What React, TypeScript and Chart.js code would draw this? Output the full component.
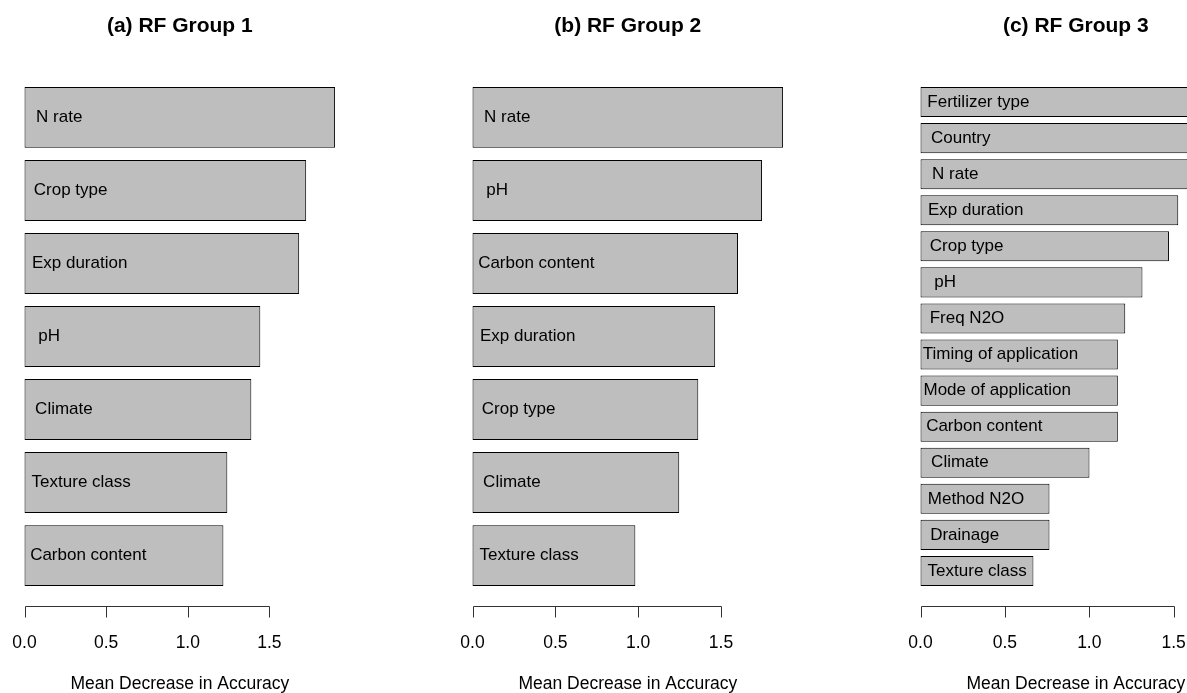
import React, { useEffect, useRef } from "react";
import { Chart, registerables } from "chart.js";

Chart.register(...registerables);

const FONT = '"Liberation Sans", Arial, Helvetica, sans-serif';

// (a) RF Group 1 – variable importance, top to bottom
const groupOneLabels = ["N rate", "Crop type", "Exp duration", "pH", "Climate", "Texture class", "Carbon content"];
const groupOneValues = [1.902, 1.725, 1.682, 1.444, 1.389, 1.242, 1.218];

// (b) RF Group 2
const groupTwoLabels = ["N rate", "pH", "Carbon content", "Exp duration", "Crop type", "Climate", "Texture class"];
const groupTwoValues = [1.875, 1.748, 1.603, 1.465, 1.363, 1.248, 0.983];

// (c) RF Group 3
const groupThreeLabels = [
  "Fertilizer type",
  "Country",
  "N rate",
  "Exp duration",
  "Crop type",
  "pH",
  "Freq N2O",
  "Timing of application",
  "Mode of application",
  "Carbon content",
  "Climate",
  "Method N2O",
  "Drainage",
  "Texture class",
];
const groupThreeValues = [1.84, 1.75, 1.67, 1.527, 1.472, 1.315, 1.213, 1.169, 1.169, 1.169, 1.001, 0.764, 0.764, 0.669];

const panelTitles = ["(a) RF Group 1", "(b) RF Group 2", "(c) RF Group 3"];
const axisTickValues = [0, 0.5, 1.0, 1.5];
const axisTickLabels = ["0.0", "0.5", "1.0", "1.5"];
const axisTitle = "Mean Decrease in Accuracy";

// page geometry
const PAGE_W = 1187;
const PAGE_H = 693;
const PANEL_STRIDE = 448;
const PLOT_LEFT = 12.1;
const PLOT_WIDTH = 335.4;
const BAR_TOP = 87;
const BAR_BOTTOM = 586;
const BAR_FRACTION = 1 / 1.2; // barplot space = 0.2
const TITLE_CENTER_Y = 26;
const TICK_LABEL_CENTER_Y = 642.7;
const AXIS_TITLE_CENTER_Y = 684;
const TICK_LEN = 11;

const BAR_FILL = "#BEBEBE";

// R-style detached axis (line + tick marks) and in-bar variable names
const rStylePlugin = {
  id: "rStyle",
  afterDatasetsDraw(chart: any) {
    const { ctx } = chart;
    const xs = chart.scales.x;
    const bars = chart.getDatasetMeta(0).data;
    const labels: string[] = chart.data.labels;
    if (!bars.length) return;
    const first = bars[0].getProps(["y", "height"], true);
    const last = bars[bars.length - 1].getProps(["y", "height"], true);
    const barsTop = first.y - first.height / 2;
    const barsBottom = last.y + last.height / 2;
    const axisY = Math.round(barsBottom + 0.04 * (barsBottom - barsTop)) + 0.5;

    ctx.save();
    ctx.strokeStyle = "#333";
    ctx.lineWidth = 1;
    const tickPx = xs.ticks.map((t: any) => Math.round(xs.getPixelForValue(t.value)) + 0.5);
    ctx.beginPath();
    ctx.moveTo(tickPx[0], axisY);
    ctx.lineTo(tickPx[tickPx.length - 1], axisY);
    tickPx.forEach((px: number) => {
      ctx.moveTo(px, axisY);
      ctx.lineTo(px, axisY + TICK_LEN);
    });
    ctx.stroke();

    ctx.font = `17px ${FONT}`;
    ctx.fillStyle = "#000";
    ctx.textAlign = "left";
    ctx.textBaseline = "middle";
    bars.forEach((bar: any, i: number) => {
      const { y, base } = bar.getProps(["y", "base"], true);
      const text = labels[i];
      const w = ctx.measureText(text).width;
      ctx.fillText(text, base + 15.5 - 0.085 * w, y);
    });
    ctx.restore();
  },
};

type PanelProps = { index: number; title: string; labels: string[]; values: number[] };

function Panel({ index, title, labels, values }: PanelProps) {
  const ref = useRef<HTMLCanvasElement | null>(null);

  useEffect(() => {
    if (!ref.current) return;
    const n = labels.length;
    const slot = (BAR_BOTTOM - BAR_TOP) / (n - 1 + BAR_FRACTION);
    const gap = slot * (1 - BAR_FRACTION);
    const chartTop = BAR_TOP - gap / 2;
    const chartBottom = BAR_BOTTOM + gap / 2;
    const maxVal = Math.max(...values);

    const chart = new Chart(ref.current, {
      type: "bar",
      data: {
        labels,
        datasets: [
          {
            data: values,
            backgroundColor: BAR_FILL,
            borderColor: "#000",
            borderWidth: 1,
            borderSkipped: false,
            categoryPercentage: 1,
            barPercentage: BAR_FRACTION,
          },
        ],
      },
      options: {
        indexAxis: "y",
        animation: false,
        responsive: false,
        events: [],
        layout: {
          padding: { left: PLOT_LEFT, right: PANEL_STRIDE - PLOT_LEFT - PLOT_WIDTH, top: 0, bottom: 0 },
        },
        plugins: {
          legend: { display: false },
          tooltip: { enabled: false },
          title: {
            display: true,
            text: title,
            fullSize: false,
            color: "#000",
            font: { family: FONT, size: 21, weight: "bold", lineHeight: 1 },
            padding: { top: TITLE_CENTER_Y - 10.5, bottom: chartTop - TITLE_CENTER_Y - 10.5 },
          },
        },
        scales: {
          x: {
            type: "linear",
            min: -0.04 * maxVal,
            max: 1.04 * maxVal,
            afterBuildTicks: (scale: any) => {
              scale.ticks = axisTickValues.map((v) => ({ value: v }));
            },
            afterFit: (scale: any) => {
              // the plot region is fixed; tick labels never need extra side room
              scale.height = PAGE_H - chartBottom;
              scale.paddingLeft = 0;
              scale.paddingRight = 0;
            },
            ticks: {
              autoSkip: false,
              maxRotation: 0,
              padding: TICK_LABEL_CENTER_Y - 8.75 - chartBottom,
              color: "#000",
              font: { family: FONT, size: 17.5, lineHeight: 1 },
              callback: (_v: any, i: number) => axisTickLabels[i],
            },
            grid: { display: false, drawTicks: false },
            border: { display: false },
            title: {
              display: true,
              text: axisTitle,
              color: "#000",
              font: { family: FONT, size: 17.5, lineHeight: 1 },
              padding: { top: 0, bottom: PAGE_H - 8.75 - AXIS_TITLE_CENTER_Y },
            },
          },
          y: {
            type: "category",
            display: false,
            offset: true,
            grid: { display: false },
          },
        },
      } as any,
      plugins: [rStylePlugin],
    });
    return () => chart.destroy();
  }, [title, labels, values]);

  return (
    <canvas
      ref={ref}
      width={PANEL_STRIDE}
      height={PAGE_H}
      style={{ position: "absolute", left: index * PANEL_STRIDE, top: 0, width: PANEL_STRIDE, height: PAGE_H }}
    />
  );
}

export default function App() {
  return (
    <div
      style={{
        position: "fixed",
        left: 0,
        top: 0,
        width: PAGE_W,
        height: PAGE_H,
        overflow: "hidden",
        background: "#fff",
      }}
    >
      <Panel index={0} title={panelTitles[0]} labels={groupOneLabels} values={groupOneValues} />
      <Panel index={1} title={panelTitles[1]} labels={groupTwoLabels} values={groupTwoValues} />
      <Panel index={2} title={panelTitles[2]} labels={groupThreeLabels} values={groupThreeValues} />
    </div>
  );
}
